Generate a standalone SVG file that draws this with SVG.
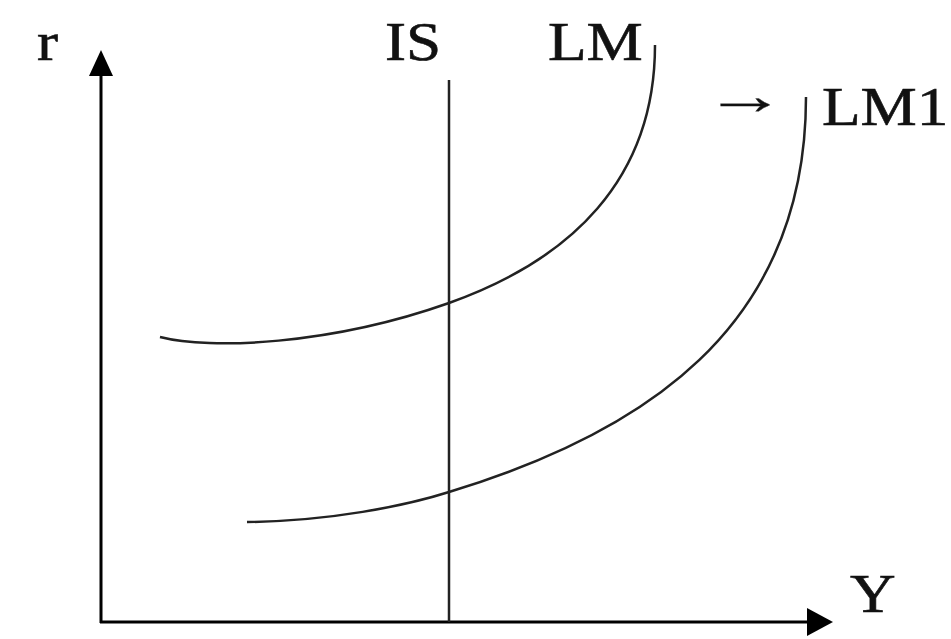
<svg xmlns="http://www.w3.org/2000/svg" width="951" height="639" viewBox="0 0 951 639">
<style>
.ax{stroke:#000;stroke-width:3;fill:none}
.ln{stroke:#222;stroke-width:2.5;fill:none}
.t{font-family:"Liberation Serif","Times New Roman",serif;font-size:55px;fill:#111;stroke:#111;stroke-width:0.6}
</style>
<rect width="951" height="639" fill="#fff"/>
<g id="connectors">
<line class="ax" x1="101" y1="623" x2="101" y2="75"/>
<path d="M101,50 L89,76 L113,76 Z" fill="#000"/>
<line class="ax" x1="100" y1="622" x2="810" y2="622"/>
<path d="M833,622 L807,608 L807,636 Z" fill="#000"/>
<line class="ln" x1="449" y1="80" x2="449" y2="622"/>
<path class="ln" d="M160,337 C210,350 330,345 449,303 C570,260 655,180 655,45"/>
<path class="ln" d="M247,522 C330,521 405,506 449,492 C640,434 806,330 806,97"/>
</g>
<g id="label-r"><text class="t" transform="translate(37,60) scale(1.15,1)">r</text></g>
<g id="label-IS"><text class="t" transform="translate(385,60) scale(1.15,1)">IS</text></g>
<g id="label-LM"><text class="t" transform="translate(548,60) scale(1.15,1)">LM</text></g>
<g id="label-arrow"><text class="t" style="stroke-width:0.2" transform="translate(704,114) scale(1.5,1)">→</text></g>
<g id="label-LM1"><text class="t" transform="translate(822,125) scale(1.15,1)">LM1</text></g>
<g id="label-Y"><text class="t" transform="translate(850,612) scale(1.15,1)">Y</text></g>
</svg>
